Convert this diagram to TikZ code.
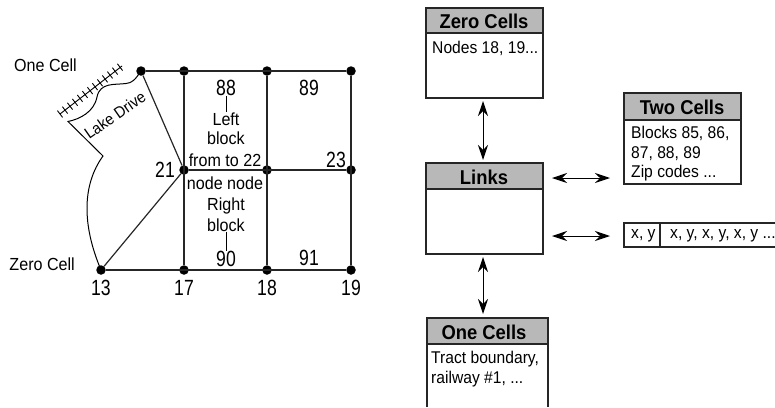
\documentclass[tikz,border=0pt]{standalone}
\usepackage{fontspec}
\setmainfont[FakeStretch=0.92]{Liberation Sans}
\newfontfamily\numfont[FakeStretch=0.8]{Liberation Sans}
\usetikzlibrary{arrows.meta}
\tikzset{
  x=1pt,y=-1pt,
  vertex/.style={circle,fill=black,inner sep=0pt,minimum size=9.5pt},
  edge/.style={draw=black!85,line width=1.2pt},
  label/.style={inner sep=0pt,font=\numfont\fontsize{22}{22}\selectfont},
  blabel/.style={inner sep=0pt,font=\fontsize{17.5}{17.5}\selectfont},
  small/.style={inner sep=0pt,font=\fontsize{17}{19.5}\selectfont,align=left,anchor=north west},
  head/.style={inner sep=0pt,font=\fontsize{20}{20}\selectfont\bfseries},
  twoway/.style={line width=1pt,{Stealth[length=15pt,width=10pt,inset=5pt]}-{Stealth[length=15pt,width=10pt,inset=5pt]}},
  boxline/.style={draw=black!85,line width=1.2pt},
  headfill/.style={fill=black!28}
}
\begin{document}
\begin{tikzpicture}
\useasboundingbox (0,0) rectangle (775,407);
% map vertices
\node[vertex] (n1) at (141,71) {};
\node[vertex] (n2) at (184,71) {};
\node[vertex] (n3) at (267,71) {};
\node[vertex] (n4) at (351,71) {};
\node[vertex] (n21) at (184,170) {};
\node[vertex] (n22) at (267,170) {};
\node[vertex] (n23) at (351,170) {};
\node[vertex] (n13) at (101,270) {};
\node[vertex] (n17) at (184,270) {};
\node[vertex] (n18) at (267,270) {};
\node[vertex] (n19) at (351,270) {};
\coordinate (corner) at (68,121.5);
\coordinate (kink) at (103,156);
% edges
\draw[edge] (n1) -- (n4);
\draw[edge] (n21) -- (n23);
\draw[edge] (n13) -- (n19);
\draw[edge] (n2) -- (n17);
\draw[edge] (n3) -- (n18);
\draw[edge] (n4) -- (n19);
\draw[edge] (n1) -- (n21);
\draw[edge] (n13) -- (n21);
\draw[line width=1pt] (n1.center) .. controls (135,80) and (132,83) .. (126,83.5)
  .. controls (115,85) and (100,82) .. (97,97)
  .. controls (94,112) and (80,119) .. (corner) -- (kink)
  .. controls (82,185) and (82,225) .. (n13.center);
% railway
\coordinate (r1) at (60,114);
\coordinate (r2) at (122,66);
\draw[line width=0.9pt] (r1) -- (r2);
\foreach \i in {0,...,12}{
  \pgfmathsetmacro\px{60+\i*5.0}
  \pgfmathsetmacro\py{114-\i*3.9}
  \draw[line width=0.9pt] (\px-2.6,\py-3.4) -- (\px+2.6,\py+3.4);
}
% map labels
\node[blabel,anchor=west] (l1) at (14,65) {One Cell};
\node[blabel,anchor=east] (l2) at (75,264) {Zero Cell};
\node[inner sep=0pt,rotate=35,font=\fontsize{16}{16}\selectfont] (ld) at (115,115) {Lake Drive};
\node[label] (t21) at (165,170) {21};
\node[label] (t13) at (101,288) {13};
\node[label] (t17) at (184,288) {17};
\node[label] (t18) at (267,288) {18};
\node[label] (t19) at (351,288) {19};
\node[label] (t88) at (226,88) {88};
\node[label] (t89) at (309,88) {89};
\node[label] (t23) at (336,160) {23};
\node[label] (t90) at (226,259) {90};
\node[label] (t91) at (309,258) {91};
\node[blabel] (tleft) at (226,119) {Left};
\node[blabel] (tblock) at (226,138) {block};
\node[blabel] (tft) at (225,160.5) {from to 22};
\node[blabel] (tnn) at (225,183) {node node};
\node[blabel] (tright) at (226,206) {Right};
\node[blabel] (tb2) at (226,225) {block};
\draw[line width=0.9pt] (t88.south) -- (tleft.north);
\draw[line width=0.9pt] (tb2.south) -- (t90.north);
% Zero Cells
\path[headfill] (426,8) rectangle (543,33);
\draw[boxline] (426,8) rectangle (543,98);
\draw[boxline] (426,33) -- (543,33);
\node[head] (zc) at (484,21) {Zero Cells};
\node[small] (zct) at (432,41) {Nodes 18, 19...};
% Links
\path[headfill] (426,163) rectangle (543,189);
\draw[boxline] (426,163) rectangle (543,254);
\draw[boxline] (426,189) -- (543,189);
\node[head] (lk) at (484,177) {Links};
% Two Cells
\path[headfill] (624,93) rectangle (741,120);
\draw[boxline] (624,93) rectangle (741,184);
\draw[boxline] (624,120) -- (741,120);
\node[head] (tc) at (682,107) {Two Cells};
\node[small] (tct) at (631,126) {Blocks 85, 86,\\87, 88, 89\\Zip codes ...};
% x,y
\draw[boxline] (775,223) -- (624,223) -- (624,247) -- (775,247);
\draw[boxline] (660,223) -- (660,247);
\node[small,anchor=west] (xy1) at (631,236) {x, y};
\node[small,anchor=west] (xy2) at (670,236) {x, y, x, y, x, y ...};
% One Cells
\path[headfill] (427,318) rectangle (548,344);
\draw[boxline] (427,407) -- (427,318) -- (548,318) -- (548,407);
\draw[boxline] (427,344) -- (548,344);
\node[head] (oc) at (484,332) {One Cells};
\node[small] (oct) at (431,351) {Tract boundary,\\railway \#1, ...};
% arrows
\coordinate (a1) at (483,101); \coordinate (a2) at (483,160);
\coordinate (a3) at (483,257); \coordinate (a4) at (483,314);
\coordinate (a5) at (552,178); \coordinate (a6) at (610,178);
\coordinate (a7) at (552,236); \coordinate (a8) at (610,236);
\draw[twoway] (a1) -- (a2);
\draw[twoway] (a3) -- (a4);
\draw[twoway] (a5) -- (a6);
\draw[twoway] (a7) -- (a8);
\end{tikzpicture}
\end{document}
